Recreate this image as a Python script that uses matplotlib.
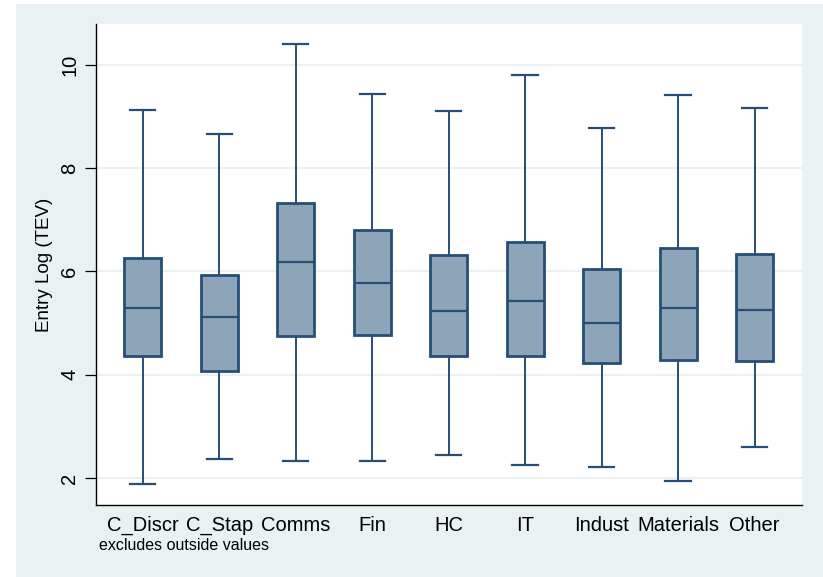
"""
Box plot - Entry Log (TEV) by sector (Stata s2color style)
"""
import matplotlib
matplotlib.use('Agg')
import matplotlib.pyplot as plt
from matplotlib.patches import Rectangle

plt.rcParams['font.family'] = ['Liberation Sans', 'DejaVu Sans']

# ── data ──────────────────────────────────────────────────────────────────────
sectors = ['C_Discr', 'C_Stap', 'Comms', 'Fin', 'HC', 'IT', 'Indust', 'Materials', 'Other']
whisker_low = [1.88, 2.38, 2.33, 2.34, 2.45, 2.26, 2.21, 1.95, 2.60]
q1 = [4.37, 4.07, 4.76, 4.77, 4.37, 4.36, 4.22, 4.28, 4.26]
median = [5.30, 5.11, 6.19, 5.77, 5.24, 5.43, 5.01, 5.29, 5.26]
q3 = [6.26, 5.94, 7.32, 6.81, 6.32, 6.58, 6.04, 6.46, 6.34]
whisker_high = [9.12, 8.66, 10.41, 9.43, 9.11, 9.81, 8.78, 9.42, 9.17]
y_ticks = [2, 4, 6, 8, 10]

NAVY = '#264e77'
FILL = '#8ea4b9'
BG = '#eaf1f3'

stats = []
for i, name in enumerate(sectors):
    stats.append({'label': name, 'whislo': whisker_low[i], 'q1': q1[i],
                  'med': median[i], 'q3': q3[i], 'whishi': whisker_high[i],
                  'fliers': []})

fig = plt.figure(figsize=(8.23, 5.77), dpi=100)
fig.patch.set_facecolor('white')
fig.patches.append(Rectangle((16 / 823, 0), 807 / 823, 573 / 577,
                             transform=fig.transFigure, facecolor=BG,
                             edgecolor='none', zorder=-10))

ax = fig.add_axes([96 / 823, 72 / 577, 706 / 823, 481 / 577])
ax.set_facecolor('white')

ax.bxp(stats, positions=range(1, len(sectors) + 1), widths=0.485,
       capwidths=0.33, patch_artist=True, showfliers=False,
       boxprops=dict(facecolor=FILL, edgecolor=NAVY, linewidth=2.0),
       medianprops=dict(color=NAVY, linewidth=1.6),
       whiskerprops=dict(color=NAVY, linewidth=1.4),
       capprops=dict(color=NAVY, linewidth=1.6))

ax.set_xlim(0.39, 9.62)
ax.set_ylim(1.48, 10.79)
ax.set_yticks(y_ticks)
ax.set_yticklabels([str(t) for t in y_ticks], rotation=90, va='center',
                   fontsize=14.5)
ax.tick_params(axis='y', length=8, width=0.9, pad=4)
ax.tick_params(axis='x', length=0, labelsize=14.5, pad=8)
ax.set_xticks(range(1, len(sectors) + 1))
ax.set_xticklabels(sectors)

ax.grid(axis='y', color=BG, linewidth=1.5)
ax.set_axisbelow(True)
ax.spines[['top', 'right']].set_visible(False)
ax.spines['left'].set_linewidth(1.0)
ax.spines['bottom'].set_linewidth(1.0)

ax.set_ylabel('Entry Log (TEV)', fontsize=13.5, labelpad=5)

fig.text(99 / 823, 1 - 550 / 577, 'excludes outside values', fontsize=11.5,
         ha='left', va='baseline')

fig.savefig('out.png', dpi=100)
plt.close(fig)
